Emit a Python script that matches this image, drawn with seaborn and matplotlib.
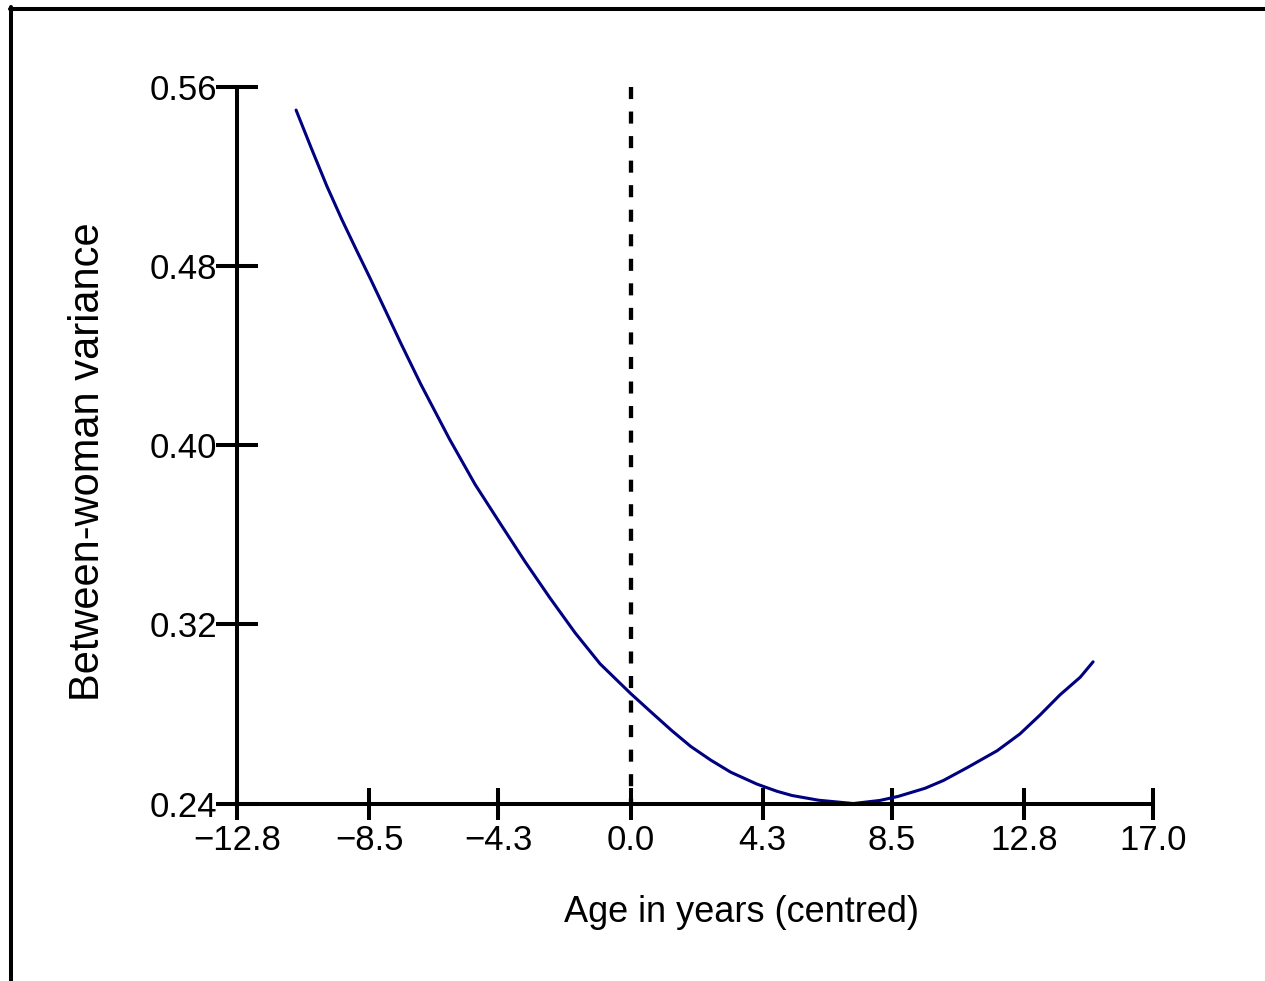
import matplotlib
matplotlib.use("Agg")
import matplotlib.pyplot as plt
import seaborn as sns
import pandas as pd
from matplotlib.lines import Line2D

# values
age = [-10.88, -10.37, -9.88, -9.39, -8.91, -8.45, -7.96, -7.47, -6.82, -5.89,
       -5.06, -4.24, -3.43, -2.62, -1.80, -0.99, 0.0, 0.69, 1.34, 1.96,
       2.61, 3.26, 4.11, 4.76, 5.25, 6.11, 7.25, 8.12, 8.71, 9.58,
       10.18, 10.95, 11.93, 12.67, 13.32, 13.97, 14.63, 15.05]
variance = [0.5497, 0.5322, 0.5158, 0.5008, 0.4870, 0.4740, 0.4598, 0.4455, 0.4272, 0.4028,
            0.3826, 0.3651, 0.3480, 0.3318, 0.3162, 0.3024, 0.2892, 0.2806, 0.2726, 0.2655,
            0.2594, 0.2540, 0.2487, 0.2455, 0.2436, 0.2415, 0.2400, 0.2414, 0.2432, 0.2468,
            0.2503, 0.2560, 0.2636, 0.2711, 0.2795, 0.2885, 0.2964, 0.3033]

x_ticks = [-12.8, -8.5, -4.3, 0.0, 4.3, 8.5, 12.8, 17.0]
x_labels = ["\u221212.8", "\u22128.5", "\u22124.3", "0.0", "4.3", "8.5", "12.8", "17.0"]
y_ticks = [0.24, 0.32, 0.40, 0.48, 0.56]
y_labels = ["0.24", "0.32", "0.40", "0.48", "0.56"]

df = pd.DataFrame({"age": age, "variance": variance})

sns.set_style("ticks")
plt.rcParams["font.family"] = ["Liberation Sans", "DejaVu Sans"]

fig = plt.figure(figsize=(12.65, 9.81), dpi=100)
ax = fig.add_axes([0.1874, 0.1809, 0.7241, 0.7304])

# reference line at age 0
ax.plot([0.0, 0.0], [0.56, 0.24], color="black", lw=3.1, dashes=(2.8, 2.9))

sns.lineplot(data=df, x="age", y="variance", color="#000080", lw=2.2, ax=ax)

ax.set_xlim(-12.8, 17.0)
ax.set_ylim(0.24, 0.56)
ax.set_xticks(x_ticks)
ax.set_xticklabels(x_labels)
ax.set_yticks(y_ticks)
ax.set_yticklabels(y_labels)

sns.despine(ax=ax)
for side in ["left", "bottom"]:
    ax.spines[side].set_linewidth(2.9)
    ax.spines[side].set_color("black")

ax.tick_params(axis="x", direction="inout", length=23, width=2.9, pad=3,
               labelsize=25, colors="black")
ax.tick_params(axis="y", direction="inout", length=30, width=2.9, pad=-1,
               labelsize=25, colors="black")

ax.set_xlabel("Age in years (centred)", fontsize=26, color="black")
ax.set_ylabel("Between-woman variance", fontsize=30, color="black")
ax.xaxis.set_label_coords(0.551, -0.1277)
ax.yaxis.set_label_coords(-0.141, 0.4766)

# outer frame (top and left edges only, as in the cropped original)
fig.add_artist(Line2D([0.0079, 1.0], [0.9908, 0.9908], color="black", lw=2.9,
                      transform=fig.transFigure))
fig.add_artist(Line2D([0.0090, 0.0090], [0.0, 0.9925], color="black", lw=2.9,
                      transform=fig.transFigure))

fig.savefig("out.png", dpi=100, facecolor="white")
plt.close(fig)
